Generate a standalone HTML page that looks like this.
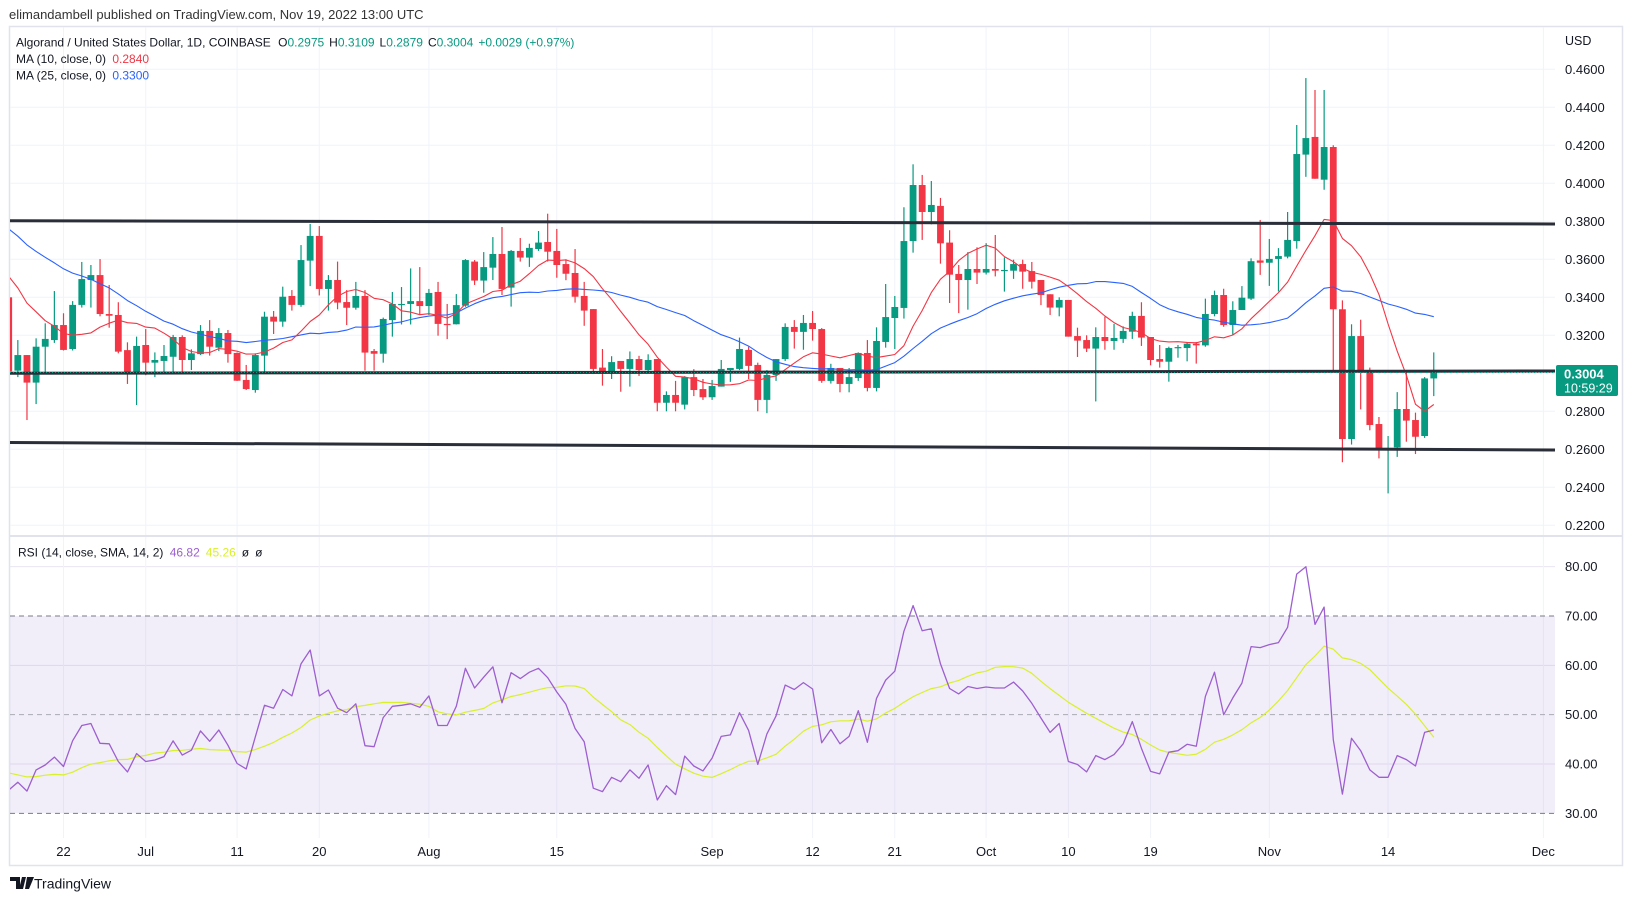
<!DOCTYPE html>
<html><head><meta charset="utf-8">
<style>
html,body{margin:0;padding:0;background:#fff;}
svg{display:block;font-family:"Liberation Sans",sans-serif;}
</style></head>
<body>
<svg id="chart" width="1633" height="901" viewBox="0 0 1633 901" xmlns="http://www.w3.org/2000/svg">
  <rect x="0" y="0" width="1633" height="901" fill="#ffffff"/>
  <text x="9" y="19" font-size="13" fill="#333">elimandambell published on TradingView.com, Nov 19, 2022 13:00 UTC</text>
  <rect x="9.5" y="26.5" width="1613" height="839" fill="none" stroke="#e0e3eb" stroke-width="1.5"/>
  <g id="grid"></g>
  <rect x="10" y="616" width="1545" height="197.3" fill="#7e57c2" fill-opacity="0.1"/>
  <g id="rsiLevels"></g>
  <line x1="10" y1="536" x2="1622" y2="536" stroke="#e0e3eb" stroke-width="2"/>
  <defs>
    <clipPath id="mainClip"><rect x="10" y="27" width="1545" height="508"/></clipPath>
    <clipPath id="rsiClip"><rect x="10" y="537" width="1545" height="300"/></clipPath>
  </defs>
  <g id="candles" clip-path="url(#mainClip)"></g>
  <g id="mas" clip-path="url(#mainClip)"></g>
  <g id="trend" clip-path="url(#mainClip)">
    <line x1="10" y1="220.7" x2="1555" y2="224" stroke="#2a2e39" stroke-width="3"/>
    <line x1="10" y1="373.3" x2="1555" y2="371" stroke="#2a2e39" stroke-width="3"/>
    <line x1="10" y1="442.5" x2="1555" y2="450" stroke="#2a2e39" stroke-width="3"/>
  </g>
  <g id="rsiLines" clip-path="url(#rsiClip)"></g>
  <g id="axes"></g>
  <g id="priceTag"></g>
  <g font-size="12">
    <text x="16" y="46.5" fill="#131722">Algorand / United States Dollar, 1D, COINBASE <tspan dx="4">O</tspan><tspan fill="#089981">0.2975</tspan><tspan dx="5">H</tspan><tspan fill="#089981">0.3109</tspan><tspan dx="5">L</tspan><tspan fill="#089981">0.2879</tspan><tspan dx="5">C</tspan><tspan fill="#089981">0.3004</tspan><tspan dx="5" fill="#089981">+0.0029 (+0.97%)</tspan></text>
    <text x="16" y="63" fill="#131722">MA (10, close, 0) <tspan dx="3" fill="#f23645">0.2840</tspan></text>
    <text x="16" y="79.5" fill="#131722">MA (25, close, 0) <tspan dx="3" fill="#2962ff">0.3300</tspan></text>
    <text x="18" y="556.5" fill="#131722">RSI (14, close, SMA, 14, 2) <tspan dx="3" fill="#9c5fd0">46.82</tspan><tspan dx="6" fill="#d9f02b">45.26</tspan><tspan dx="6" fill="#131722">ø</tspan><tspan dx="6" fill="#131722">ø</tspan></text>
  </g>
  <g>
    <path d="M10 877 h10 v12 h-4 v-8 h-6z M22 877 h4 l-3 12 h-4z M27 877 h7 l-5 12 h-4z" fill="#131722"/>
    <text x="34" y="888.5" font-size="14" fill="#131722">TradingView</text>
  </g>
</svg>
<script>
// ---- data ----
const opens = [.340,.3014,.3096,.2951,.3140,.3175,.3254,.3128,.336,.3491,.3517,.3312,.3307,.3122,.3005,.3149,.3056,.3065,.3087,.3191,.307,.3101,.3223,.3135,.3212,.3107,.2965,.2912,.3093,.3298,.3272,.3407,.336,.3593,.3723,.3444,.3491,.3375,.3345,.3407,.3117,.3103,.3280,.336,.3365,.338,.3354,.3428,.326,.3258,.3356,.3588,.3488,.3556,.3628,.3451,.3644,.3609,.3654,.3691,.3644,.3575,.3528,.3407,.3338,.303,.300,.3065,.3023,.3075,.3017,.3075,.2845,.2886,.2835,.298,.2917,.2874,.2930,.3017,.3023,.3123,.3044,.2860,.2991,.3075,.3244,.3218,.3265,.3233,.296,.3028,.2944,.2975,.3107,.2923,.3165,.3291,.3344,.3696,.3991,.3849,.3881,.3688,.3523,.3491,.3549,.3530,.3549,.354,.354,.3575,.3538,.3491,.3416,.3346,.3386,.3196,.3175,.3130,.3191,.3170,.3181,.3219,.3302,.3191,.3075,.3061,.3133,.3133,.3156,.3147,.3312,.3412,.3254,.3333,.3393,.3594,.3582,.3602,.3614,.3696,.4151,.4244,.4019,.4191,.3337,.2654,.3196,.3017,.2733,.2605,.2610,.2812,.2754,.2670,.2973];
const highs = [.345,.3175,.3096,.3184,.3263,.3433,.3316,.338,.3586,.3570,.3601,.3465,.3374,.3163,.3193,.3233,.311,.3149,.3202,.320,.3126,.3254,.328,.3238,.3228,.311,.3044,.3105,.3324,.3328,.3456,.3438,.3675,.3786,.3775,.3517,.3588,.3438,.3481,.3438,.3128,.3293,.3428,.3454,.3552,.3559,.3444,.3481,.3365,.3417,.3601,.3596,.3638,.3717,.3770,.3649,.3712,.3682,.3749,.3840,.3760,.3600,.3654,.3481,.3338,.3128,.309,.3065,.3115,.3092,.310,.3075,.2905,.2960,.2985,.3022,.2970,.2965,.3070,.3028,.3188,.3140,.3056,.3017,.3075,.3263,.3280,.3307,.3328,.3238,.3050,.3028,.3028,.3110,.3175,.3242,.3470,.3407,.3874,.4100,.4044,.4012,.3923,.3753,.3570,.3638,.3663,.3685,.3728,.3610,.3598,.3598,.3586,.3491,.3416,.340,.3386,.3240,.3200,.3242,.3298,.3260,.3247,.3324,.3374,.3191,.3149,.3140,.3149,.3165,.3165,.3393,.3435,.3445,.3379,.3459,.3605,.3807,.3707,.3659,.3849,.4307,.4554,.4491,.4491,.4200,.3384,.3258,.3282,.3030,.2770,.2670,.2901,.3010,.2793,.2980,.3110];
const lows = [.300,.298,.2754,.2838,.3005,.316,.312,.312,.3346,.3346,.330,.324,.3105,.2944,.2833,.299,.298,.3005,.300,.3005,.3017,.3096,.3093,.3117,.3056,.296,.2912,.2898,.3005,.3207,.3245,.333,.335,.3459,.341,.333,.3337,.3254,.3335,.3014,.3014,.3056,.3193,.3257,.3257,.3307,.3307,.3198,.318,.3257,.335,.3465,.3424,.3491,.3412,.3351,.3588,.356,.3644,.3588,.3503,.349,.3372,.325,.3003,.2935,.2970,.2903,.2930,.2986,.3000,.280,.280,.280,.2810,.2880,.2860,.2860,.2930,.2955,.3017,.2970,.2800,.2790,.2960,.3065,.3130,.3124,.3172,.2950,.2946,.2900,.2900,.2960,.2905,.2905,.3135,.3128,.3288,.3635,.3702,.3784,.3577,.3370,.3317,.3335,.3470,.3520,.3510,.3430,.3497,.3445,.3446,.3359,.3307,.3300,.3193,.3086,.3112,.2852,.3124,.3124,.3160,.3181,.3144,.3042,.3030,.2956,.3082,.3063,.3051,.3140,.3300,.3245,.3200,.3333,.3386,.3518,.3460,.3431,.3605,.3656,.4034,.4024,.3966,.3009,.2532,.2625,.2810,.2700,.2552,.2368,.2560,.2640,.2575,.2660,.2880];
const closes = [.301,.3096,.2951,.3140,.3181,.3254,.3123,.3360,.3496,.3517,.3312,.3303,.3114,.3005,.3144,.3056,.307,.3091,.3191,.307,.3105,.3223,.314,.3212,.3101,.2961,.2917,.3096,.3298,.3272,.3403,.3360,.3596,.3723,.3444,.3491,.3372,.3345,.3407,.3109,.3103,.3286,.3365,.3365,.338,.3354,.3423,.3260,.3258,.3359,.3596,.3488,.3559,.3628,.3444,.3644,.3609,.366,.3688,.364,.357,.3524,.3403,.333,.3023,.300,.3059,.3023,.3075,.3017,.3070,.2845,.2886,.2845,.298,.2912,.2874,.2933,.3023,.3028,.3128,.3039,.2860,.2991,.3075,.3244,.3218,.3265,.3233,.2960,.3028,.2944,.2980,.3107,.2923,.3170,.3296,.3349,.3696,.3991,.3849,.3886,.3684,.3519,.3491,.3549,.3530,.3549,.3540,.3544,.3575,.3535,.3482,.3412,.3346,.3386,.3193,.3172,.3130,.3191,.3170,.3186,.3223,.3302,.3188,.3070,.3061,.3133,.3138,.3156,.3147,.3312,.3412,.3254,.3333,.3398,.3590,.3582,.3602,.3617,.3702,.4154,.4238,.4024,.4191,.3337,.2654,.3196,.3017,.2728,.2602,.2607,.2812,.2751,.2666,.2973,.3004];
const priorCloses = [0.405,0.41,0.40,0.395,0.40,0.39,0.392,0.388,0.395,0.39,0.385,0.39,0.388,0.382,0.38,0.37,0.375,0.36,0.365,0.355,0.35,0.345,0.345,0.344];
const rsiValues = [34.7,36.3,34.5,38.8,39.8,41.4,39.5,44.7,47.8,48.2,44.2,44.1,40.5,38.4,42.1,40.5,40.8,41.5,44.7,41.8,42.8,46.7,44.6,46.9,43.8,40.1,39.0,45.5,51.9,51.3,55.1,53.8,60.3,63.1,53.8,55.0,51.3,50.4,52.2,43.7,43.5,49.4,51.7,51.9,52.2,51.5,53.8,47.8,47.8,51.7,59.4,55.4,57.6,59.7,52.4,58.5,57.3,58.6,59.4,57.5,54.6,52.1,47.2,44.5,35.1,34.4,37.3,36.4,38.8,37.1,39.8,32.7,35.6,33.8,41.6,39.6,38.6,41.2,45.6,45.9,50.4,46.8,39.9,46.1,49.7,56.0,55.1,56.5,55.2,44.3,47.0,44.1,45.6,50.8,44.4,53.3,57.0,58.8,66.9,72.1,67.0,67.4,60.3,55.3,54.2,55.7,55.3,55.6,55.4,55.4,56.6,54.8,52.3,49.3,46.4,48.2,40.5,39.9,38.4,41.7,40.9,41.9,44.1,48.6,43.2,38.5,38.0,42.4,42.7,44.0,43.6,53.7,58.6,50.0,53.4,56.4,63.8,63.6,64.2,64.6,67.7,78.5,80.0,68.3,71.8,44.9,33.9,45.2,42.7,38.8,37.3,37.3,41.7,40.9,39.6,46.4,46.9];
const rsiPrior = [42,40,38,36,39,41,37,35,38,40,39,37,38];
const priceTicks = [0.46,0.44,0.42,0.40,0.38,0.36,0.34,0.32,0.30,0.28,0.26,0.24,0.22];
const priceTickLabels = ["0.4600","0.4400","0.4200","0.4000","0.3800","0.3600","0.3400","0.3200","","0.2800","0.2600","0.2400","0.2200"];
const rsiTicks = [80,70,60,50,40,30];
const timeTickDays = [0,9,19,28,40,54,71,82,91,101,110,119,132,145,162]; // days from Jun 22
const timeTickLabels = ["22","Jul","11","20","Aug","15","Sep","12","21","Oct","10","19","Nov","14","Dec"];

// ---- scales ----
const NS = "http://www.w3.org/2000/svg";
const xCandle = i => 8.7 + i * 9.135;
const xDay = d => 63.5 + d * 9.135;
const yPrice = p => 69.3 + (0.46 - p) * 1900;
const yRsi = v => 616 + (70 - v) * 4.933;
function mk(tag, attrs, parent){const e=document.createElementNS(NS,tag);for(const k in attrs)e.setAttribute(k,attrs[k]);parent.appendChild(e);return e;}

const grid = document.getElementById('grid');
priceTicks.forEach((p)=>{
  const l = mk('line',{x1:10,x2:1555,y1:yPrice(p),y2:yPrice(p),stroke:'#f0f3fa','stroke-width':1},grid);
  
  
});
[80,60,40].forEach(v=>{
  const l = mk('line',{x1:10,x2:1555,y1:yRsi(v),y2:yRsi(v),stroke:'#e9e6f2','stroke-width':1},grid);
  
  
});
timeTickDays.forEach(d=>{
  const l = mk('line',{x1:xDay(d),x2:xDay(d),y1:27,y2:838,stroke:'#f0f3fa','stroke-width':1},grid);
  
  
});

const lv = document.getElementById('rsiLevels');
[[70,'#787b86'],[50,'#a9abb2'],[30,'#787b86']].forEach(([v,c])=>{
  const l = mk('line',{x1:10,x2:1555,y1:yRsi(v),y2:yRsi(v),stroke:c,'stroke-width':1,'stroke-dasharray':'5,4'},lv);
  
  
});

// candles
const cg = document.getElementById('candles');
closes.forEach((c,i)=>{
  const o=opens[i], up = c>=o, col = up?'#089981':'#f23645', x=xCandle(i);
  const g = mk('g',{},cg);
  
  
  mk('line',{x1:x,x2:x,y1:yPrice(highs[i]),y2:yPrice(lows[i]),stroke:col,'stroke-width':1.2},g);
  const top=yPrice(Math.max(o,c)), bot=yPrice(Math.min(o,c));
  mk('rect',{x:x-3.4,y:top,width:6.8,height:Math.max(1.2,bot-top),fill:col},g);
});

// moving averages
function sma(arr, prior, n){
  const all = prior.concat(arr), off = prior.length, out=[];
  for(let i=0;i<arr.length;i++){const j=i+off;let s=0,k=0;for(let m=Math.max(0,j-n+1);m<=j;m++){s+=all[m];k++;}out.push(s/k);}
  return out;
}
const ma10 = sma(closes, priorCloses, 10), ma25 = sma(closes, priorCloses, 25);
const mg = document.getElementById('mas');
function poly(vals, yf, xf, color, w, parent, name){
  const pl = mk('polyline',{points:vals.map((v,i)=>xf(i).toFixed(1)+','+yf(v).toFixed(1)).join(' '),fill:'none',stroke:color,'stroke-width':w,'stroke-linejoin':'round'},parent);
  
  
}
poly(ma25, yPrice, xCandle, '#2962ff', 1.1, mg, 'ma25-line');
poly(ma10, yPrice, xCandle, '#f23645', 1.1, mg, 'ma10-line');

// RSI
const rg = document.getElementById('rsiLines');
const rsiSma = sma(rsiValues, rsiPrior, 14);
poly(rsiSma, yRsi, xCandle, '#d9f02b', 1.2, rg, 'rsi-sma-line');
poly(rsiValues, yRsi, xCandle, '#9c5fd0', 1.3, rg, 'rsi-line');

// axes labels
const ax = document.getElementById('axes');
priceTicks.forEach((p,i)=>{
  if(!priceTickLabels[i]) return;
  const t = mk('text',{x:1565,y:yPrice(p)+4.5,'font-size':13,fill:'#131722'},ax);
  t.textContent = priceTickLabels[i];
  
  
});
const usd = mk('text',{x:1565,y:45,'font-size':12.5,fill:'#131722'},ax);
usd.textContent='USD';


rsiTicks.forEach(v=>{
  const t = mk('text',{x:1565,y:yRsi(v)+4.5,'font-size':13,fill:'#131722'},ax);
  t.textContent = v.toFixed(2);
  
  
});
timeTickDays.forEach((d,i)=>{
  const t = mk('text',{x:xDay(d),y:856,'font-size':13,fill:'#131722','text-anchor':'middle'},ax);
  t.textContent = timeTickLabels[i];
  
  
});

// last price tag
const pt = document.getElementById('priceTag');
const lastY = yPrice(closes[closes.length-1]);
const dl = mk('line',{x1:10,x2:1555,y1:lastY,y2:lastY,stroke:'#089981','stroke-width':1,'stroke-dasharray':'1,2'},pt);


const box = mk('rect',{x:1556,y:365,width:62,height:31,rx:2,fill:'#089981'},pt);


const t1 = mk('text',{x:1564,y:378.5,'font-size':13,'font-weight':'bold',fill:'#fff'},pt);
t1.textContent = closes[closes.length-1].toFixed(4);


const t2 = mk('text',{x:1564,y:392.5,'font-size':12.5,fill:'#fff'},pt);
t2.textContent = '10:59:29';


</script>
</body></html>
